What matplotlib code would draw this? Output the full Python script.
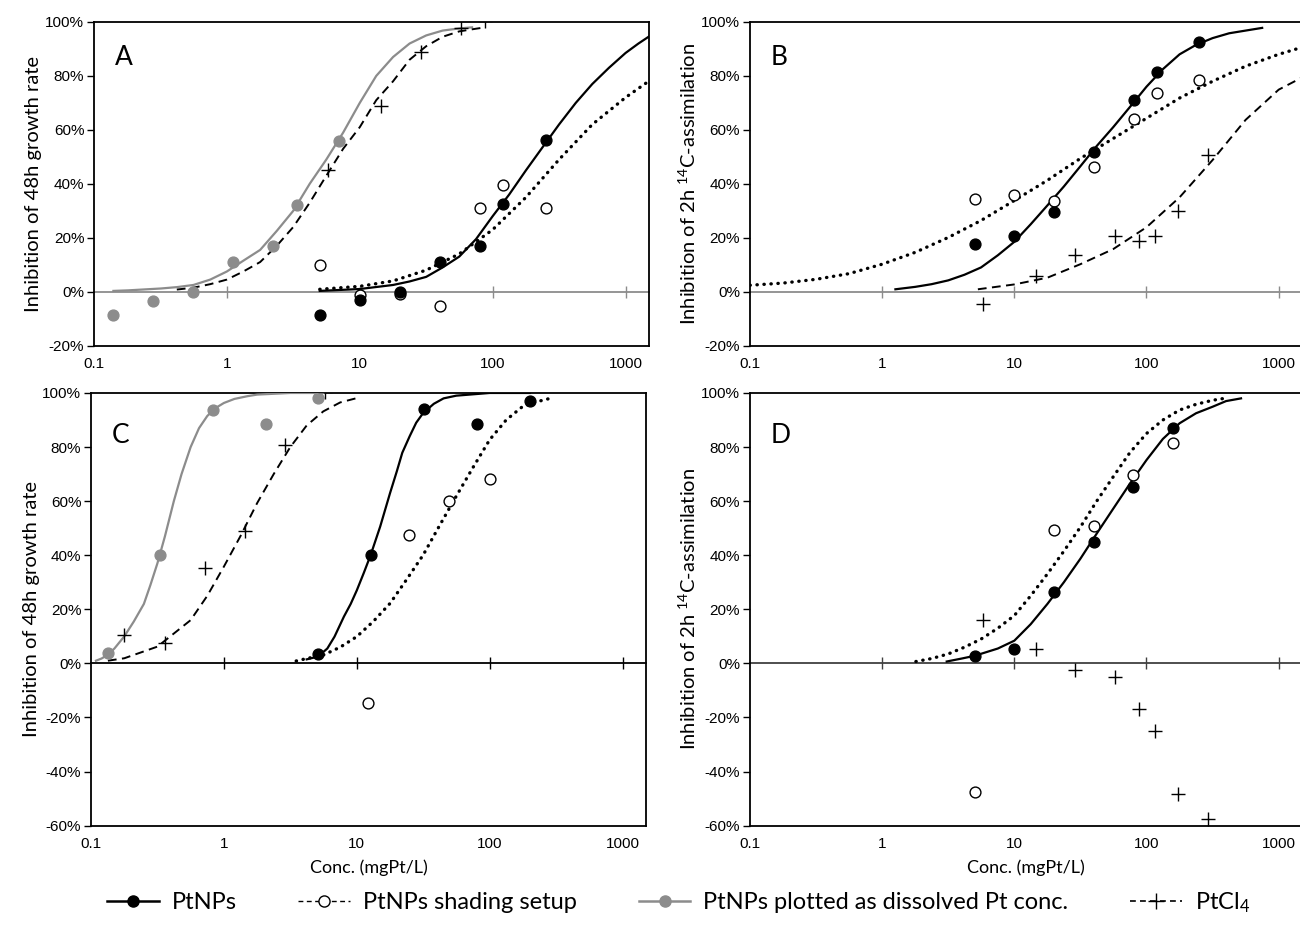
import matplotlib
matplotlib.use("Agg")
import matplotlib.pyplot as plt
from matplotlib.ticker import FixedLocator, NullLocator, FuncFormatter
from matplotlib.lines import Line2D

plt.rcParams['font.family'] = ['Lato', 'DejaVu Sans']
plt.rcParams['mathtext.fontset'] = 'custom'
plt.rcParams['mathtext.rm'] = 'Lato'
plt.rcParams['mathtext.it'] = 'Lato:italic'

#############
# DATA      #
#############

# panel A - 48h growth rate
a_np_conc = [5, 10, 20, 40, 80, 120, 250]
a_np = [-8.6, -3.1, 0.0, 10.9, 16.9, 32.5, 56.2]
a_shade = [9.9, -1.2, -0.9, -5.3, 31.1, 39.5, 31.1]
a_diss_conc = [0.14, 0.28, 0.56, 1.12, 2.24, 3.36, 7.0]
a_diss = [-8.6, -3.3, 0.0, 10.9, 16.9, 32.3, 56.0]
a_cl_conc = [5.8, 14.4, 28.8, 58, 88]
a_cl = [45.0, 68.8, 88.9, 97.9, 100.4]

a_fit_np_x = [5, 10, 17.8, 23.7, 31.6, 42, 56, 75, 100, 133, 178, 237, 316, 422, 562, 750, 1000, 1250, 1490]
a_fit_np_y = [0.3, 1, 2.5, 3.8, 5.5, 9, 13, 19.5, 28, 36, 45, 53.5, 62, 70, 77, 83, 88.5, 92, 94.5]
a_fit_shade_x = [5, 10, 17.8, 31.6, 56, 100, 178, 316, 562, 1000, 1490]
a_fit_shade_y = [0.9, 2, 4, 8, 14, 23, 35, 49, 62, 72, 78]
a_fit_diss_x = [0.14, 0.18, 0.32, 0.42, 0.56, 0.75, 1.0, 1.33, 1.78, 2.37, 3.16, 4.2, 5.6,
                7.5, 10, 13.3, 17.8, 23.7, 31.6, 42, 56, 70]
a_fit_diss_y = [0.3, 0.5, 1.2, 1.7, 2.5, 4.5, 7.5, 11.5, 15.5, 22.5, 30, 40, 49,
                59, 70, 80, 87, 92, 95, 96.8, 97.6, 98]
a_fit_cl_x = [0.42, 0.56, 0.75, 1.0, 1.33, 1.78, 2.37, 3.16, 4.2, 5.6, 7.5, 10, 13.3, 17.8,
              23.7, 31.6, 42, 56, 75, 88]
a_fit_cl_y = [0.8, 1.5, 2.8, 4.5, 7.5, 11, 17, 24, 33, 43, 53, 61, 71, 78,
              86, 91, 94.5, 96.5, 97.5, 98]

# panel B - 2h 14C-assimilation
b_np_conc = [5, 10, 20, 40, 80, 120, 250]
b_np = [17.7, 20.8, 29.4, 51.9, 70.9, 81.3, 92.7]
b_shade = [34.2, 35.8, 33.8, 46.3, 63.9, 73.6, 78.4]
b_cl_conc = [5.8, 14.6, 29, 58, 87, 116, 172, 291]
b_cl = [-4.7, 5.8, 13.7, 20.8, 18.9, 20.8, 29.9, 50.6]

b_fit_np_x = [1.26, 1.78, 2.37, 3.16, 4.2, 5.6, 7.5, 10, 13.3, 17.8, 23.7, 31.6, 42, 56, 75,
              100, 133, 178, 237, 316, 422, 562, 750]
b_fit_np_y = [0.9, 1.8, 2.8, 4.2, 6.3, 9, 13.5, 18.5, 25, 32, 39, 46.5, 54, 61, 68.5,
              76, 82.5, 88, 91.5, 94, 95.8, 96.8, 97.8]
b_fit_shade_x = [0.1, 0.178, 0.316, 0.562, 1, 1.78, 3.16, 5.6, 10, 17.8, 31.6, 56, 100, 178,
                 316, 562, 1000, 1500]
b_fit_shade_y = [2.4, 3.2, 4.6, 6.7, 10.2, 14.6, 20.1, 26.4, 33.8, 41.3, 49.4, 56.8, 64.3,
                 71.8, 78, 83.6, 88, 90.6]
b_fit_cl_x = [5.3, 10, 17.8, 31.6, 56, 100, 178, 316, 562, 1000, 1500]
b_fit_cl_y = [0.9, 2.7, 5.2, 10.2, 15.8, 23.9, 35, 48.8, 63.7, 74.9, 79.4]

# panel C - 48h growth rate
c_np_conc = [5.1, 12.7, 32, 80, 200]
c_np = [3.5, 40.0, 94.1, 88.5, 97.0]
c_shade_conc = [12.2, 24.9, 49.6, 100]
c_shade = [-14.8, 47.3, 59.9, 68.2]
c_diss_conc = [0.134, 0.328, 0.828, 2.06, 5.14]
c_diss = [3.7, 40.0, 93.8, 88.5, 98.1]
c_cl_conc = [0.177, 0.36, 0.716, 1.45, 2.9, 5.77]
c_cl = [10.5, 7.4, 35.2, 48.8, 80.9, 100.2]

c_fit_np_x = [4.2, 5.1, 6, 6.8, 8, 9, 10, 11.3, 12.7, 15, 17.8, 20, 22, 25, 28, 31.6, 38, 45,
              56, 100, 200]
c_fit_np_y = [1.5, 2.5, 5.5, 9.9, 17.3, 22, 27, 33.5, 40, 50.6, 63, 71, 77.9, 84, 89, 92.6,
              96, 98, 99, 100, 100]
c_fit_shade_x = [3.5, 4.2, 5.6, 7.5, 10, 13.3, 17.8, 23.7, 31.6, 42, 56, 75, 100, 133, 178,
                 237, 290]
c_fit_shade_y = [0.9, 1.8, 3.1, 6, 9.9, 15.5, 22.2, 31, 40.1, 51, 61.8, 72.5, 82.7, 90,
                 95.1, 97, 98.1]
c_fit_diss_x = [0.109, 0.12, 0.134, 0.15, 0.178, 0.21, 0.25, 0.28, 0.316, 0.36, 0.42, 0.48,
                0.562, 0.65, 0.75, 0.87, 1.0, 1.2, 1.5, 1.78, 3.16, 5.6]
c_fit_diss_y = [1, 1.8, 3.2, 5.5, 10, 15.5, 22, 29, 37, 47, 60, 70,
                80, 87, 91.5, 94.5, 96.3, 97.8, 98.8, 99.4, 100, 100]
c_fit_cl_x = [0.134, 0.178, 0.316, 0.562, 0.75, 1.0, 1.33, 1.78, 2.37, 3.16, 4.2, 5.6, 7.5, 10]
c_fit_cl_y = [1, 1.9, 6.2, 16, 25, 35.8, 47, 59.3, 70, 80, 88, 93.2, 96.5, 98.1]

# panel D - 2h 14C-assimilation
d_np_conc = [5, 10, 20, 40, 79, 160]
d_np = [2.8, 5.3, 26.3, 44.9, 65.3, 86.9]
d_shade = [-47.5, 49.2, 50.7, 69.6, 81.6]
d_shade_conc = [5, 20, 40, 79, 160]
d_cl_conc = [5.8, 14.6, 29, 58, 87, 116, 172, 291]
d_cl = [16.2, 5.3, -2.3, -4.9, -16.9, -25.0, -48.2, -57.7]

d_fit_np_x = [3.08, 4, 5, 7.5, 10, 13.3, 17.8, 23.7, 31.6, 42, 56, 75, 100, 133, 178, 237,
              316, 400, 519]
d_fit_np_y = [0.7, 1.8, 2.8, 5.5, 8.4, 14.5, 22, 30, 38.7, 48, 57.2, 66.5, 75.2, 83, 88.8,
              92.5, 94.9, 97, 98]
d_fit_shade_x = [1.8, 2.37, 3.16, 4.2, 5.6, 7.5, 10, 13.3, 17.8, 23.7, 31.6, 42, 56, 75, 100,
                 133, 178, 237, 316, 400]
d_fit_shade_y = [0.7, 1.8, 3.5, 6, 9, 13, 17.7, 25, 33.1, 41.5, 50.4, 60, 69, 78, 85,
                 90, 93.7, 95.8, 97.3, 98.1]

x_ticks = [0.1, 1, 10, 100, 1000]
x_ticklabels = ['0.1', '1', '10', '100', '1000']

#########
# STYLE #
#########

GRAY = '#8c8c8c'
DASH = (0, (4.5, 2.8))
DOT = (0, (0.1, 2.0))
tick_font = dict(family='Liberation Sans', size=11)


def setup(ax, ymin, letter, ylabel, zero_color):
    ax.set_xscale('log')
    ax.set_xlim(0.1, 1500)
    ax.set_ylim(ymin, 100)
    ax.xaxis.set_major_locator(FixedLocator(x_ticks))
    ax.xaxis.set_minor_locator(NullLocator())
    ax.set_xticklabels(x_ticklabels, **tick_font)
    ax.set_yticks(range(ymin, 101, 20))
    ax.yaxis.set_major_formatter(FuncFormatter(lambda v, p: '%d%%' % v))
    for lab in ax.get_yticklabels():
        lab.set_fontfamily('Liberation Sans')
        lab.set_fontsize(11)
    ax.tick_params(axis='x', length=0, pad=8)
    ax.tick_params(axis='y', length=5, width=1, pad=2, direction='out')
    for s in ax.spines.values():
        s.set_linewidth(1.3)
    # zero line with ticks
    loc = (0 - ymin) / (100 - ymin)
    sec = ax.secondary_xaxis(loc)
    sec.xaxis.set_major_locator(FixedLocator(x_ticks[1:]))
    sec.xaxis.set_minor_locator(NullLocator())
    sec.tick_params(axis='x', direction='inout', length=9, width=1,
                    color=zero_color, labelbottom=False)
    sec.spines['bottom'].set_color(zero_color)
    sec.spines['bottom'].set_linewidth(1.3)
    ax.text(0.038, 0.93, letter, transform=ax.transAxes, fontsize=19,
            va='top', ha='left')
    ax.set_ylabel(ylabel, fontsize=14.5, labelpad=2)


def fit(ax, x, y, style):
    if style == 'np':
        ax.plot(x, y, color='black', lw=1.6, zorder=3)
    elif style == 'shade':
        ax.plot(x, y, color='black', lw=2.4, linestyle=DOT,
                dash_capstyle='round', zorder=3)
    elif style == 'diss':
        ax.plot(x, y, color=GRAY, lw=1.6, zorder=3)
    else:
        ax.plot(x, y, color='black', lw=1.4, linestyle=DASH, zorder=3)


def pts(ax, x, y, style):
    if style == 'np':
        ax.plot(x, y, 'o', color='black', ms=7.8, zorder=4, linestyle='none')
    elif style == 'shade':
        ax.plot(x, y, 'o', mfc='white', mec='black', mew=1.0, ms=7.8,
                zorder=4, linestyle='none')
    elif style == 'diss':
        ax.plot(x, y, 'o', color=GRAY, ms=7.8, zorder=4, linestyle='none')
    else:
        ax.plot(x, y, '+', color='black', mew=1.0, ms=10, zorder=4,
                linestyle='none')


fig = plt.figure(figsize=(13, 9.46), dpi=100)
axA = fig.add_axes([0.0723, 0.6346, 0.4269, 0.3422])
axB = fig.add_axes([0.5769, 0.6346, 0.4246, 0.3422])
axC = fig.add_axes([0.0700, 0.1272, 0.4269, 0.4574])
axD = fig.add_axes([0.5769, 0.1272, 0.4246, 0.4574])

lab48 = 'Inhibition of 48h growth rate'
lab14 = r'Inhibition of 2h $^{\mathrm{14}}$C-assimilation'

# A
setup(axA, -20, 'A', lab48, GRAY)
fit(axA, a_fit_diss_x, a_fit_diss_y, 'diss')
fit(axA, a_fit_cl_x, a_fit_cl_y, 'cl')
fit(axA, a_fit_np_x, a_fit_np_y, 'np')
fit(axA, a_fit_shade_x, a_fit_shade_y, 'shade')
pts(axA, a_diss_conc, a_diss, 'diss')
pts(axA, a_cl_conc, a_cl, 'cl')
pts(axA, a_np_conc, a_shade, 'shade')
pts(axA, a_np_conc, a_np, 'np')

# B
setup(axB, -20, 'B', lab14, GRAY)
fit(axB, b_fit_np_x, b_fit_np_y, 'np')
fit(axB, b_fit_shade_x, b_fit_shade_y, 'shade')
fit(axB, b_fit_cl_x, b_fit_cl_y, 'cl')
pts(axB, b_cl_conc, b_cl, 'cl')
pts(axB, b_np_conc, b_shade, 'shade')
pts(axB, b_np_conc, b_np, 'np')

# C
setup(axC, -60, 'C', lab48, 'black')
fit(axC, c_fit_diss_x, c_fit_diss_y, 'diss')
fit(axC, c_fit_cl_x, c_fit_cl_y, 'cl')
fit(axC, c_fit_np_x, c_fit_np_y, 'np')
fit(axC, c_fit_shade_x, c_fit_shade_y, 'shade')
pts(axC, c_diss_conc, c_diss, 'diss')
pts(axC, c_cl_conc, c_cl, 'cl')
pts(axC, c_shade_conc, c_shade, 'shade')
pts(axC, c_np_conc, c_np, 'np')
axC.set_xlabel('Conc. (mgPt/L)', fontsize=13, labelpad=6)

# D
setup(axD, -60, 'D', lab14, '#404040')
fit(axD, d_fit_np_x, d_fit_np_y, 'np')
fit(axD, d_fit_shade_x, d_fit_shade_y, 'shade')
pts(axD, d_cl_conc, d_cl, 'cl')
pts(axD, d_shade_conc, d_shade, 'shade')
pts(axD, d_np_conc, d_np, 'np')
axD.set_xlabel('Conc. (mgPt/L)', fontsize=13, labelpad=6)

# legend
handles = [
    Line2D([], [], color='black', lw=1.8, marker='o', ms=8),
    Line2D([], [], color='black', lw=1.0, linestyle=(0, (3.5, 2.5)),
           marker='o', mfc='white', mec='black', ms=8),
    Line2D([], [], color=GRAY, lw=1.8, marker='o', ms=8),
    Line2D([], [], color='black', lw=1.2, linestyle=(0, (3.5, 2.5)),
           marker='+', ms=11, mew=1.0),
]
labels = ['PtNPs', 'PtNPs shading setup', 'PtNPs plotted as dissolved Pt conc.',
          r'PtCl$_{\mathrm{4}}$']
fig.legend(handles, labels, loc='center', bbox_to_anchor=(0.522, 0.046),
           ncol=4, frameon=False, fontsize=17, handlelength=2.2,
           columnspacing=2.6, handletextpad=0.55)

fig.savefig('out.png', dpi=100)
